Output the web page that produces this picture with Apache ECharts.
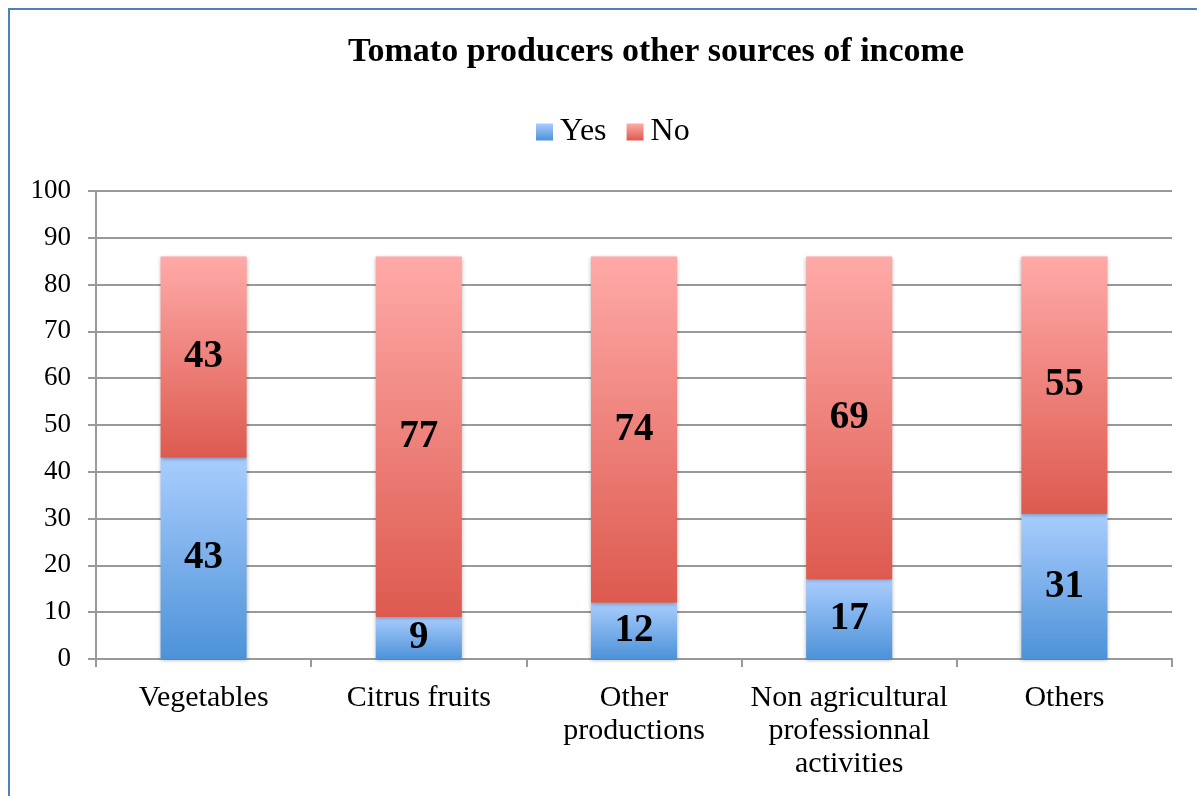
<!DOCTYPE html>
<html>
<head>
<meta charset="utf-8">
<script src="https://cdn.jsdelivr.net/npm/echarts@6/dist/echarts.min.js"></script>
<style>
  html, body { margin: 0; padding: 0; background: #fff; }
  #chart { width: 1197px; height: 796px; }
</style>
</head>
<body>
<div id="chart"></div>
<script>
// data
const categories = ['Vegetables', 'Citrus fruits', 'Other\nproductions', 'Non agricultural\nprofessionnal\nactivities', 'Others']
const yesValues = [43, 9, 12, 17, 31]
const noValues = [43, 77, 74, 69, 55]

const FONT = '"Liberation Serif", "DejaVu Serif", serif'

const yesGradient = new echarts.graphic.LinearGradient(0, 0, 0, 1, [
  { offset: 0, color: '#a9cdfe' },
  { offset: 1, color: '#4d92d8' }
])
const noGradient = new echarts.graphic.LinearGradient(0, 0, 0, 1, [
  { offset: 0, color: '#ffaaa8' },
  { offset: 1, color: '#dd5a4f' }
])

const labelStyle = {
  show: true,
  position: 'inside',
  fontFamily: FONT,
  fontWeight: 'bold',
  fontSize: 39,
  color: '#000'
}

const chart = echarts.init(document.getElementById('chart'))
chart.setOption({
  animation: false,
  backgroundColor: '#fff',
  graphic: [
    {
      type: 'polyline',
      shape: { points: [[9, 800], [9, 9], [1200, 9]] },
      style: { stroke: '#4f81bd', lineWidth: 2, fill: null }
    }
  ],
  title: {
    text: 'Tomato producers other sources of income',
    left: 651,
    textAlign: 'center',
    top: 30,
    textStyle: { fontFamily: FONT, fontWeight: 'bold', fontSize: 34, color: '#000' }
  },
  legend: {
    top: 111,
    left: 531,
    icon: 'rect',
    itemWidth: 17,
    itemHeight: 17,
    itemGap: 20,
    textStyle: { fontFamily: FONT, fontSize: 32, color: '#000', padding: [0, 0, 0, 2] },
    data: [
      { name: 'Yes', itemStyle: { color: yesGradient } },
      { name: 'No', itemStyle: { color: noGradient } }
    ]
  },
  grid: { left: 96, right: 25, top: 191, bottom: 137, containLabel: false },
  xAxis: {
    type: 'category',
    data: categories,
    axisLine: { lineStyle: { color: '#999', width: 2 } },
    axisTick: { show: true, length: 8, lineStyle: { color: '#999', width: 2 } },
    axisLabel: {
      fontFamily: FONT, fontSize: 30, color: '#000', margin: 23, lineHeight: 33, interval: 0
    }
  },
  yAxis: {
    type: 'value',
    min: 0,
    max: 100,
    interval: 10,
    axisLine: { show: true, lineStyle: { color: '#999', width: 2 } },
    axisTick: { show: true, length: 8, lineStyle: { color: '#999', width: 2 } },
    axisLabel: { fontFamily: FONT, fontSize: 27, color: '#000', margin: 25 },
    splitLine: { lineStyle: { color: '#999', width: 2 } }
  },
  series: [
    {
      name: 'Yes',
      type: 'bar',
      stack: 'total',
      barWidth: '40%',
      data: yesValues,
      itemStyle: {
        color: yesGradient,
        shadowColor: 'rgba(0,0,0,0.3)', shadowBlur: 4, shadowOffsetY: 1
      },
      label: labelStyle
    },
    {
      name: 'No',
      type: 'bar',
      stack: 'total',
      barWidth: '40%',
      data: noValues,
      itemStyle: {
        color: noGradient,
        shadowColor: 'rgba(0,0,0,0.3)', shadowBlur: 4, shadowOffsetY: 1
      },
      label: labelStyle
    }
  ]
})
</script>
</body>
</html>
